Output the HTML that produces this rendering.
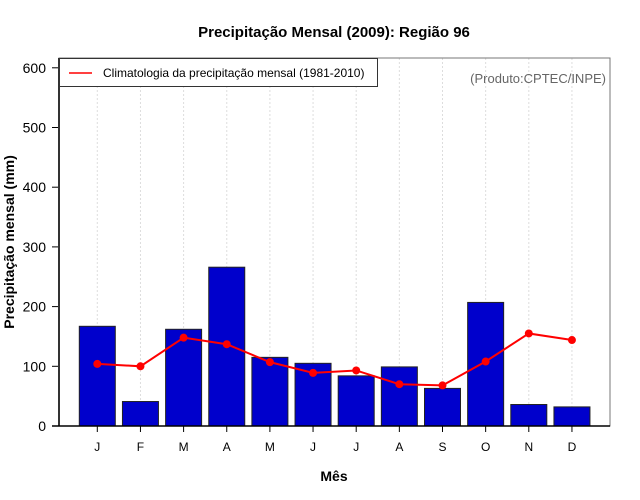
<!DOCTYPE html>
<html><head><meta charset="utf-8"><style>
body{margin:0;background:#fff}
svg{display:block;font-family:"Liberation Sans",sans-serif}
</style></head><body>
<svg id="chart" width="640" height="500">
<text x="334" y="37" text-anchor="middle" font-size="15" font-weight="bold">Precipitação Mensal (2009): Região 96</text>
<text x="334" y="481" text-anchor="middle" font-size="14" font-weight="bold">Mês</text>
<text transform="translate(14,242) rotate(-90)" text-anchor="middle" font-size="14" font-weight="bold">Precipitação mensal (mm)</text>
<g id="grid"></g>
<g id="bars"></g>
<g id="line"></g>
<g id="axes"></g>
<rect x="59" y="58" width="551" height="368" fill="none" stroke="#777" stroke-width="1"/>
<line x1="59" y1="58" x2="59" y2="426" stroke="#333" stroke-width="2"/>
<line x1="52" y1="426" x2="610" y2="426" stroke="#000" stroke-width="1.5"/>
<g>
<rect x="59.5" y="58.5" width="318" height="28" fill="#fff" stroke="#333"/>
<line x1="69" y1="73" x2="92" y2="73" stroke="red" stroke-width="1.5"/>
<text x="103" y="77" font-size="12">Climatologia da precipitação mensal (1981-2010)</text>
</g>
<text x="606" y="83" text-anchor="end" font-size="13" fill="#666">(Produto:CPTEC/INPE)</text>
</svg>
<script>
const months=["J","F","M","A","M","J","J","A","S","O","N","D"];
const precip=[167,41,162,266,115,105,84,99,63,207,36,32];
const climatology=[104,100,148,137,107,89,93,70,68,108,155,144];
const yTicks=[0,100,200,300,400,500,600];
const NS="http://www.w3.org/2000/svg";
const xS=i=>97.3+43.15*i;
const yS=v=>426-v*0.597;
function mk(t,a,p){const e=document.createElementNS(NS,t);for(const k in a)e.setAttribute(k,a[k]);p.appendChild(e);return e;}
const grid=document.getElementById('grid'),bars=document.getElementById('bars'),line=document.getElementById('line'),axes=document.getElementById('axes');
months.forEach((m,i)=>{
 const g=mk('line',{x1:xS(i),x2:xS(i),y1:58,y2:426,stroke:'#ddd','stroke-dasharray':'2,2'},grid);
 
 
 const b=mk('rect',{x:xS(i)-18,y:yS(precip[i]),width:36,height:426-yS(precip[i]),fill:'#0000cc',stroke:'#222','stroke-width':1},bars);
 
 
 const t=mk('line',{x1:xS(i),x2:xS(i),y1:426,y2:432,stroke:'#000'},axes);
 
 
 const l=mk('text',{x:xS(i),y:451,'text-anchor':'middle','font-size':12},axes);
 l.textContent=m;
 
 
});
const pl=mk('polyline',{points:climatology.map((v,i)=>xS(i)+','+yS(v)).join(' '),fill:'none',stroke:'red','stroke-width':2},line);


climatology.forEach((v,i)=>{
 const c=mk('circle',{cx:xS(i),cy:yS(v),r:4,fill:'red'},line);
 
 
});
yTicks.forEach(v=>{
 const t=mk('line',{x1:52,x2:59,y1:yS(v),y2:yS(v),stroke:'#000'},axes);
 
 
 const l=mk('text',{x:46,y:yS(v)+5,'text-anchor':'end','font-size':14},axes);
 l.textContent=v;
 
 
});
</script>
</body></html>
